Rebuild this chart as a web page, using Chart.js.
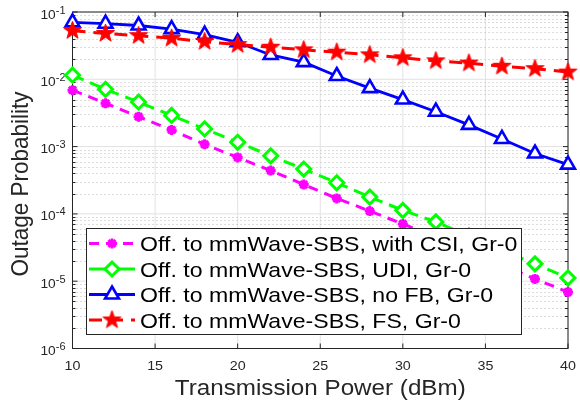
<!DOCTYPE html>
<html>
<head>
<meta charset="utf-8">
<script src="https://cdn.jsdelivr.net/npm/chart.js@4.4.0/dist/chart.umd.min.js"></script>
<style>
html,body{margin:0;padding:0;background:#fff;}
#wrap{position:relative;width:580px;height:405px;}
</style>
</head>
<body>
<div id="wrap"><canvas id="c"></canvas></div>
<script>
// ---- data ----
const power = [10,12,14,16,18,20,22,24,26,28,30,32,34,36,38,40];
const withCSI = [0.0069,0.0044,0.00278,0.00177,0.00108,0.00069,0.00044,0.000273,0.00017,0.00011,7.1e-5,4.5e-5,2.75e-5,1.74e-5,1.08e-5,6.9e-6];
const udi     = [0.0115,0.0071,0.0046,0.0029,0.00183,0.00116,0.00073,0.000464,0.00029,0.000178,0.000113,7.6e-5,4.7e-5,2.9e-5,1.81e-5,1.12e-5];
const noFB    = [0.07,0.067,0.063,0.0557,0.046,0.0355,0.023,0.018,0.0112,0.0074,0.005,0.0033,0.0021,0.0013,0.00079,0.00054];
const fsCSI   = [0.0528,0.048,0.0445,0.0407,0.0363,0.0328,0.030,0.0274,0.0253,0.0231,0.0209,0.0188,0.0174,0.0156,0.0144,0.0128];
const seriesNames = [
  'Off. to mmWave-SBS, with CSI, Gr-0',
  'Off. to mmWave-SBS, UDI, Gr-0',
  'Off. to mmWave-SBS, no FB, Gr-0',
  'Off. to mmWave-SBS, FS, Gr-0'
];
const xTicks = [10,15,20,25,30,35,40];
const yTickExps = [-6,-5,-4,-3,-2,-1];
const xTitle = 'Transmission Power (dBm)';
const yTitle = 'Outage Probability';

// ---- styling ----
const FONT = "'Liberation Sans', Arial, Helvetica, sans-serif";
const SX = 1.1;            // horizontal stretch of all text in the reference
const AXC = '#262626';

function makeStar(R, color){
  const s = Math.ceil(R*2+2);
  const c = document.createElement('canvas');
  c.width = s; c.height = s;
  const g = c.getContext('2d');
  g.fillStyle = color; g.strokeStyle = color; g.lineWidth = 1;
  g.beginPath();
  for (let k=0;k<10;k++){
    const r = (k%2) ? R*0.40 : R;
    const a = -Math.PI/2 + k*Math.PI/5;
    g.lineTo(s/2 + r*Math.cos(a), s/2 + r*Math.sin(a));
  }
  g.closePath(); g.fill(); g.stroke();
  return c;
}
const redStar = makeStar(9.5, '#ff0000');

const pts = arr => power.map((p,i)=>({x:p, y:arr[i]}));

const styles = [
  {color:'#ff00ff', dash:[10,7], width:3, marker:'asterisk'},
  {color:'#00ff00', dash:[12,7], width:3, marker:'diamond'},
  {color:'#0000ff', dash:[],     width:2.8, marker:'triangle'},
  {color:'#ff0000', dash:[13,8], width:3, marker:'star5'}
];

function txt(ctx, s, x, y, size, align, color, rot){
  ctx.save();
  ctx.translate(x, y);
  ctx.scale(SX, 1);
  if (rot) ctx.rotate(rot);
  ctx.font = size + 'px ' + FONT;
  ctx.textAlign = align;
  ctx.textBaseline = 'alphabetic';
  ctx.fillStyle = color;
  ctx.fillText(s, 0, 0);
  ctx.restore();
}
function tw(ctx, s, size){
  ctx.save(); ctx.font = size + 'px ' + FONT;
  const w = ctx.measureText(s).width * SX; ctx.restore(); return w;
}
function seg(ctx, x1,y1,x2,y2){ ctx.beginPath(); ctx.moveTo(x1,y1); ctx.lineTo(x2,y2); ctx.stroke(); }

function drawMarker(ctx, m, x, y, color){
  ctx.save();
  ctx.setLineDash([]);
  ctx.strokeStyle = color; ctx.fillStyle = '#fff';
  if (m === 'asterisk'){
    const r = 5; ctx.lineWidth = 3;
    for (let k=0;k<4;k++){ const a=k*Math.PI/4; seg(ctx, x-r*Math.cos(a), y-r*Math.sin(a), x+r*Math.cos(a), y+r*Math.sin(a)); }
  } else if (m === 'diamond'){
    const r = 7; ctx.lineWidth = 3;
    ctx.beginPath(); ctx.moveTo(x-r,y); ctx.lineTo(x,y-r); ctx.lineTo(x+r,y); ctx.lineTo(x,y+r); ctx.closePath(); ctx.fill(); ctx.stroke();
  } else if (m === 'triangle'){
    const r = 8; ctx.lineWidth = 2.6;
    ctx.beginPath(); ctx.moveTo(x, y-r); ctx.lineTo(x+0.866*r, y+0.5*r); ctx.lineTo(x-0.866*r, y+0.5*r); ctx.closePath(); ctx.fill(); ctx.stroke();
  } else {
    ctx.drawImage(redStar, x-redStar.width/2, y-redStar.height/2);
  }
  ctx.restore();
}

const deco = {
  id: 'deco',
  beforeDatasetsDraw(chart){
    const ctx = chart.ctx, a = chart.chartArea, xs = chart.scales.x, ys = chart.scales.y;
    ctx.save();
    // major grid
    ctx.lineWidth = 1; ctx.strokeStyle = '#e2e2e2'; ctx.setLineDash([]);
    xTicks.forEach(v => { const px = xs.getPixelForValue(v); seg(ctx, px, a.top, px, a.bottom); });
    yTickExps.forEach(e => { const py = ys.getPixelForValue(Math.pow(10,e)); seg(ctx, a.left, py, a.right, py); });
    // minor dotted grid
    ctx.strokeStyle = '#b8b8b8'; ctx.setLineDash([1,3]);
    for (let i=0;i<yTickExps.length-1;i++){
      for (let m=2;m<=9;m++){
        const py = Math.round(ys.getPixelForValue(m*Math.pow(10,yTickExps[i]))) + 0.5;
        seg(ctx, a.left, py, a.right, py);
      }
    }
    ctx.setLineDash([]);
    // box
    ctx.strokeStyle = AXC; ctx.lineWidth = 1;
    ctx.strokeRect(a.left, a.top, a.right-a.left, a.bottom-a.top);
    // ticks
    xTicks.forEach(v => { const px = xs.getPixelForValue(v);
      seg(ctx, px, a.bottom, px, a.bottom-5); seg(ctx, px, a.top, px, a.top+5); });
    yTickExps.forEach(e => { const py = ys.getPixelForValue(Math.pow(10,e));
      seg(ctx, a.left, py, a.left+5, py); seg(ctx, a.right, py, a.right-5, py); });
    for (let i=0;i<yTickExps.length-1;i++){
      for (let m=2;m<=9;m++){
        const py = Math.round(ys.getPixelForValue(m*Math.pow(10,yTickExps[i]))) + 0.5;
        seg(ctx, a.left, py, a.left+3, py); seg(ctx, a.right, py, a.right-3, py);
      }
    }
    // tick labels
    xTicks.forEach(v => { txt(ctx, String(v), xs.getPixelForValue(v), 369.5, 13, 'center', AXC); });
    yTickExps.forEach(e => {
      const py = ys.getPixelForValue(Math.pow(10,e));
      const ex = String(e);
      const right = 65.5;
      const ew = tw(ctx, ex, 10);
      txt(ctx, ex, right, py + 1.5, 10, 'right', AXC);
      txt(ctx, '10', right - ew, py + 6.5, 12.5, 'right', AXC);
    });
    // axis titles
    txt(ctx, xTitle, (a.left+a.right)/2, 395, 22, 'center', AXC);
    txt(ctx, yTitle, 28, 184, 22.5, 'center', AXC, -Math.PI/2);
    ctx.restore();
  },
  afterDatasetsDraw(chart){
    const ctx = chart.ctx;
    ctx.save();
    const L = 86.5, T = 228.5, R = 521.5, B = 334.5;
    ctx.fillStyle = '#fff'; ctx.fillRect(L, T, R-L, B-T);
    ctx.strokeStyle = AXC; ctx.lineWidth = 1; ctx.strokeRect(L, T, R-L, B-T);
    const rows = [243.5, 269, 294.5, 320];
    seriesNames.forEach((name, i) => {
      const st = styles[i], yy = rows[i];
      ctx.strokeStyle = st.color; ctx.lineWidth = st.width;
      ctx.setLineDash(i===1 ? [] : st.dash);
      seg(ctx, 89, yy, 135, yy);
      ctx.setLineDash([]);
      drawMarker(ctx, st.marker, 112, yy, st.color);
      txt(ctx, name, 140, yy + 7.5, 21, 'left', '#000');
    });
    ctx.restore();
  }
};

const datasets = [
  {label: seriesNames[0], data: pts(withCSI), borderColor: styles[0].color, backgroundColor: styles[0].color,
   borderWidth: 3, borderDash: styles[0].dash, pointStyle: 'star', pointRadius: 5, pointBorderWidth: 3,
   pointBorderColor: styles[0].color, pointBackgroundColor: styles[0].color, order: 3},
  {label: seriesNames[1], data: pts(udi), borderColor: styles[1].color, backgroundColor: '#fff',
   borderWidth: 3, borderDash: styles[1].dash, pointStyle: 'rectRot', pointRadius: 7, pointBorderWidth: 3,
   pointBorderColor: styles[1].color, pointBackgroundColor: '#fff', order: 2},
  {label: seriesNames[2], data: pts(noFB), borderColor: styles[2].color, backgroundColor: '#fff',
   borderWidth: 2.8, pointStyle: 'triangle', pointRadius: 8, pointBorderWidth: 2.6,
   pointBorderColor: styles[2].color, pointBackgroundColor: '#fff', order: 1},
  {label: seriesNames[3], data: pts(fsCSI), borderColor: styles[3].color, backgroundColor: styles[3].color,
   borderWidth: 3, borderDash: styles[3].dash, pointStyle: redStar, pointRadius: 9, order: 0}
];
datasets.forEach(d => { d.tension = 0; d.clip = false; d.fill = false; d.pointHoverRadius = d.pointRadius; });

new Chart(document.getElementById('c'), {
  type: 'line',
  data: { datasets },
  options: {
    responsive: true,
    maintainAspectRatio: false,
    animation: false,
    events: [],
    layout: { padding: { left: 72.5, right: 7.5, top: 9.5, bottom: 56.5 } },
    plugins: { legend: { display: false }, tooltip: { enabled: false } },
    scales: {
      x: { type: 'linear', min: 10, max: 40, display: false },
      y: { type: 'logarithmic', min: 1e-6, max: 1e-1, display: false }
    }
  },
  plugins: [deco]
});
</script>
</body>
</html>
